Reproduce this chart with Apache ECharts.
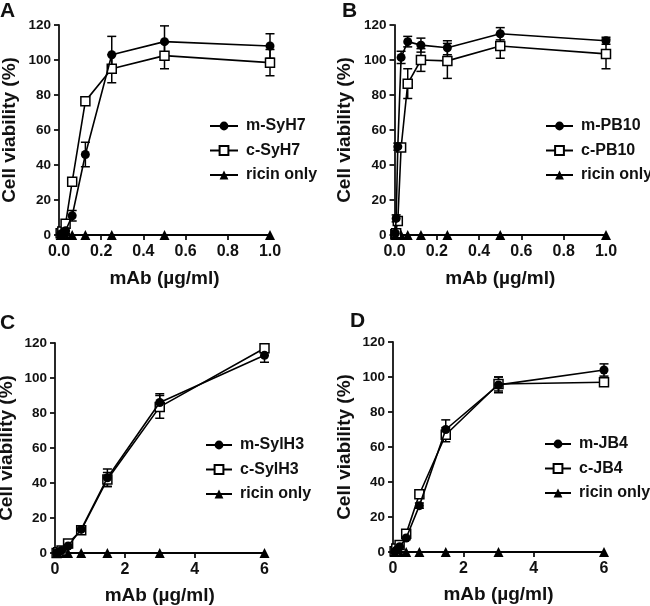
<!DOCTYPE html>
<html>
<head>
<meta charset="utf-8">
<script src="https://cdn.jsdelivr.net/npm/echarts@6/dist/echarts.min.js"></script>
<style>html,body{margin:0;padding:0;background:#fff}#c{width:650px;height:606px}</style>
</head>
<body>
<div id="c"></div>
<script>
// ---------- Data ----------
// Panel A
const dosesA = [0.0078125, 0.015625, 0.03125, 0.0625, 0.125, 0.25, 0.5, 1];
const mSyH7 = [0.5, 1, 2.5, 11, 46, 103, 110.5, 108];
const mSyH7Err = [0, 0.5, 1.5, 3, 7, 10.5, 9, 7];
const cSyH7 = [1, 2, 6.5, 30.5, 76.5, 95, 102.5, 98.5];
const cSyH7Err = [0.5, 1, 1, 2, 2, 8, 7.5, 7.5];
const ricinA = [0, 0, 0, 0, 0, 0, 0, 0];
// Panel B
const dosesB = [0.00390625, 0.0078125, 0.015625, 0.03125, 0.0625, 0.125, 0.25, 0.5, 1];
const mPB10 = [1, 9.5, 50.5, 101.5, 110.5, 108.5, 107, 115, 111];
const mPB10Err = [0.5, 2, 2, 3.5, 3, 4, 4, 3.5, 2];
const cPB10 = [0.5, 1, 8, 50, 86.5, 100, 99.5, 108, 103.5];
const cPB10Err = [0, 0.5, 1.5, 2, 8.5, 6.5, 10, 7, 8.5];
const ricinB = [0, 0, 0, 0, 0, 0, 0, 0, 0];
// Panel C
const dosesC = [0.046875, 0.09375, 0.1875, 0.375, 0.75, 1.5, 3, 6];
const mSylH3 = [0, 0.5, 1.5, 4, 13.5, 43, 86, 113];
const mSylH3Err = [0, 0, 0.5, 1, 2, 5, 5, 4];
const cSylH3 = [0, 0.5, 1.5, 5.5, 13, 42, 83.5, 117];
const cSylH3Err = [0, 0, 0.5, 1, 2, 4, 6.5, 1.5];
const ricinC = [0, 0, 0, 0, 0, 0, 0, 0];
// Panel D
const dosesD = [0.046875, 0.09375, 0.1875, 0.375, 0.75, 1.5, 3, 6];
const mJB4 = [0, 1, 3, 8, 26.5, 70, 95.5, 104];
const mJB4Err = [0, 0, 1, 1, 1.5, 5.5, 4.5, 3.5];
const cJB4 = [0.5, 2, 4, 10.5, 33, 67, 96, 97];
const cJB4Err = [0, 0.5, 1, 1, 1, 4, 4, 1];
const ricinD = [0, 0, 0, 0, 0, 0, 0, 0];

const yTicks = { min: 0, max: 120, interval: 20 };
const panelLetters = ['A', 'B', 'C', 'D'];
const legendNames = [
  ['m-SyH7', 'c-SyH7', 'ricin only'],
  ['m-PB10', 'c-PB10', 'ricin only'],
  ['m-SylH3', 'c-SylH3', 'ricin only'],
  ['m-JB4', 'c-JB4', 'ricin only']
];
const xAxisTitle = 'mAb (\u00b5g/ml)';
const yAxisTitle = 'Cell viability (%)';

// ---------- Layout ----------
const FONT = '"Liberation Sans", Arial, sans-serif';
const panels = [
  { doses: dosesA, m: mSyH7, mE: mSyH7Err, c: cSyH7, cE: cSyH7Err, r: ricinA,
    grid: { left: 59, top: 25, width: 211, height: 210 }, xmax: 1, xint: 0.2, dec: 1,
    legend: { left: 204, top: 113, w: 28 }, yGap: 40, xGap: 34,
    letter: { left: 0, top: 1 } },
  { doses: dosesB, m: mPB10, mE: mPB10Err, c: cPB10, cE: cPB10Err, r: ricinB,
    grid: { left: 394.5, top: 25, width: 211.5, height: 210 }, xmax: 1, xint: 0.2, dec: 1,
    legend: { left: 540, top: 113, w: 27 }, yGap: 40, xGap: 34,
    letter: { left: 342, top: 1 } },
  { doses: dosesC, m: mSylH3, mE: mSylH3Err, c: cSylH3, cE: cSylH3Err, r: ricinC,
    grid: { left: 55, top: 343, width: 209.5, height: 210 }, xmax: 6, xint: 2, dec: 0,
    legend: { left: 200, top: 432, w: 26 }, yGap: 39, xGap: 33,
    letter: { left: 0, top: 313 } },
  { doses: dosesD, m: mJB4, mE: mJB4Err, c: cJB4, cE: cJB4Err, r: ricinD,
    grid: { left: 393, top: 342, width: 211, height: 210 }, xmax: 6, xint: 2, dec: 0,
    legend: { left: 539, top: 431, w: 26 }, yGap: 39, xGap: 33,
    letter: { left: 350, top: 311 } }
];

function errRender(params, api) {
  const x = api.value(0), y = api.value(1), e = api.value(2);
  if (!e) return null;
  const t = api.coord([x, y + e]);
  const b = api.coord([x, y - e]);
  const hw = 4.5;
  const st = { stroke: '#000', lineWidth: 1.5 };
  return {
    type: 'group',
    children: [
      { type: 'line', shape: { x1: t[0], y1: t[1], x2: b[0], y2: b[1] }, style: st },
      { type: 'line', shape: { x1: t[0] - hw, y1: t[1], x2: t[0] + hw, y2: t[1] }, style: st },
      { type: 'line', shape: { x1: b[0] - hw, y1: b[1], x2: b[0] + hw, y2: b[1] }, style: st }
    ]
  };
}

const grids = [], xAxes = [], yAxes = [], series = [], legends = [], graphics = [];
panels.forEach((p, i) => {
  grids.push(Object.assign({ outerBoundsMode: 'none', containLabel: false }, p.grid));
  xAxes.push({
    gridIndex: i, type: 'value', min: 0, max: p.xmax, interval: p.xint,
    name: xAxisTitle, nameLocation: 'middle', nameGap: p.xGap,
    nameTextStyle: { fontFamily: FONT, fontWeight: 'bold', fontSize: 19, color: '#111' },
    axisLine: { show: true, onZero: false, lineStyle: { color: '#111', width: 1.8 } },
    axisTick: { show: true, length: 5, lineStyle: { color: '#111', width: 1.8 } },
    axisLabel: { fontFamily: FONT, fontWeight: 'bold', fontSize: 16, color: '#111', margin: 9,
      formatter: v => v.toFixed(p.dec) },
    splitLine: { show: false }
  });
  yAxes.push({
    gridIndex: i, type: 'value', min: yTicks.min, max: yTicks.max, interval: yTicks.interval,
    name: yAxisTitle, nameLocation: 'middle', nameGap: p.yGap, nameRotate: 90,
    nameTextStyle: { fontFamily: FONT, fontWeight: 'bold', fontSize: 19, color: '#111' },
    axisLine: { show: true, onZero: false, lineStyle: { color: '#111', width: 1.8 } },
    axisTick: { show: true, length: 5, lineStyle: { color: '#111', width: 1.8 } },
    axisLabel: { fontFamily: FONT, fontWeight: 'bold', fontSize: 13.5, color: '#111', margin: 8 },
    splitLine: { show: false }
  });
  const names = legendNames[i];
  const pts = arr => p.doses.map((d, k) => [d, arr[k]]);
  const errPts = (arr, e) => p.doses.map((d, k) => [d, arr[k], e[k]]);
  series.push({ type: 'custom', xAxisIndex: i, yAxisIndex: i, renderItem: errRender,
    data: errPts(p.c, p.cE), z: 2, clip: false, silent: true });
  series.push({ type: 'custom', xAxisIndex: i, yAxisIndex: i, renderItem: errRender,
    data: errPts(p.m, p.mE), z: 2, clip: false, silent: true });
  series.push({ name: names[2], type: 'line', xAxisIndex: i, yAxisIndex: i, data: pts(p.r),
    symbol: 'triangle', symbolSize: 10, color: '#000',
    itemStyle: { color: '#000' }, lineStyle: { color: '#000', width: 1.6 }, z: 3, clip: false });
  series.push({ name: names[1], type: 'line', xAxisIndex: i, yAxisIndex: i, data: pts(p.c),
    symbol: 'rect', symbolSize: 9, color: '#000',
    itemStyle: { color: '#fff', borderColor: '#000', borderWidth: 1.5 },
    lineStyle: { color: '#000', width: 1.6 }, z: 4, clip: false });
  series.push({ name: names[0], type: 'line', xAxisIndex: i, yAxisIndex: i, data: pts(p.m),
    symbol: 'circle', symbolSize: 9, color: '#000',
    itemStyle: { color: '#000' }, lineStyle: { color: '#000', width: 1.6 }, z: 5, clip: false });
  legends.push({
    data: names, orient: 'vertical', left: p.legend.left, top: p.legend.top,
    itemWidth: p.legend.w, itemHeight: 11, itemGap: 8.5, selectedMode: false,
    textStyle: { fontFamily: FONT, fontWeight: 'bold', fontSize: 16, color: '#111', lineHeight: 16,
      padding: [0, 0, 0, 3] }
  });
  graphics.push({ type: 'text', left: p.letter.left, top: p.letter.top,
    style: { text: panelLetters[i], font: 'bold 21px ' + FONT, fill: '#111' } });
});

const chart = echarts.init(document.getElementById('c'), null, { renderer: 'canvas' });
chart.setOption({
  animation: false,
  backgroundColor: '#fff',
  grid: grids, xAxis: xAxes, yAxis: yAxes, series: series, legend: legends, graphic: graphics
});
</script>
</body>
</html>
